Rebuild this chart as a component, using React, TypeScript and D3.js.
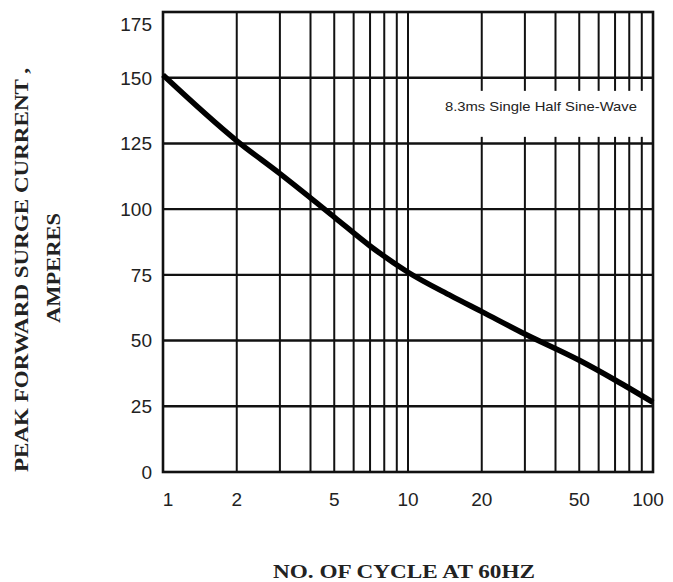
import React from "react";
import * as d3 from "d3";

// surge current vs number of cycles
const cycles = [1, 2, 3, 5, 7, 10, 15, 20, 30, 50, 70, 100];
const amps = [151, 126, 113.5, 97, 86, 76, 67, 61, 52.5, 42.5, 35, 26.5];

const xGridVals = [2, 3, 4, 5, 6, 7, 8, 9, 10, 20, 30, 40, 50, 60, 70, 80, 90];
const xTickLabels = [1, 2, 5, 10, 20, 50, 100];
const yTicks = [0, 25, 50, 75, 100, 125, 150, 175];

const noteText = "8.3ms Single Half Sine-Wave";
const yTitle1 = "PEAK FORWARD SURGE CURRENT ,";
const yTitle2 = "AMPERES";
const xTitle = "NO. OF CYCLE AT 60HZ";

const W = 673;
const H = 582;
const margin = { top: 12, right: 20, bottom: 110, left: 163 };

export default function App() {
  const x = d3.scaleLog().domain([1, 100]).range([margin.left, W - margin.right]);
  const y = d3.scaleLinear().domain([0, 175]).range([H - margin.bottom, margin.top]);

  const line = d3
    .line<number>()
    .x((d, i) => x(cycles[i]))
    .y((d) => y(d))
    .curve(d3.curveMonotoneX);

  const ink = "#111";
  const sans = "'Liberation Sans', Arial, sans-serif";
  const serif = "'Liberation Serif', 'Times New Roman', serif";

  // white patch behind the note, in data units
  const box = { x0: 13.5, x1: 95, y0: 127.5, y1: 145 };

  return (
    <svg
      width={W}
      height={H}
      style={{ position: "absolute", left: 0, top: 0, background: "#fff" }}
    >
      {/* vertical grid */}
      {xGridVals.map((v) => (
        <line key={"vx" + v} x1={x(v)} x2={x(v)} y1={y(0)} y2={y(175)} stroke={ink} strokeWidth={2} />
      ))}
      {/* note patch */}
      <rect
        x={x(box.x0)}
        y={y(box.y1)}
        width={x(box.x1) - x(box.x0)}
        height={y(box.y0) - y(box.y1)}
        fill="#fff"
      />
      <text
        x={x(86)}
        y={y(137.5)}
        textAnchor="end"
        fontFamily={sans}
        fontSize={13}
        fill="#222"
        textLength={192}
        lengthAdjust="spacingAndGlyphs"
      >
        {noteText}
      </text>
      {/* horizontal grid */}
      {yTicks.slice(1, -1).map((v) => (
        <line key={"hy" + v} x1={x(1)} x2={x(100)} y1={y(v)} y2={y(v)} stroke={ink} strokeWidth={2.4} />
      ))}
      {/* frame */}
      <rect
        x={x(1)}
        y={y(175)}
        width={x(100) - x(1)}
        height={y(0) - y(175)}
        fill="none"
        stroke={ink}
        strokeWidth={2.6}
      />
      {/* curve */}
      <path d={line(amps) || ""} fill="none" stroke="#000" strokeWidth={5.5} strokeLinejoin="round" />

      {/* y tick labels */}
      {yTicks.map((v) => (
        <text
          key={"yl" + v}
          x={margin.left - 11}
          y={y(v) + (v === 175 ? 12 : 0)}
          dy="0.36em"
          textAnchor="end"
          fontFamily={sans}
          fontSize={19}
          fill="#222"
        >
          {v}
        </text>
      ))}
      {/* x tick labels */}
      {xTickLabels.map((v, i) => (
        <text
          key={"xl" + v}
          x={x(v) + (i === 0 ? 5 : i === xTickLabels.length - 1 ? -5 : 0)}
          y={y(0) + 34}
          textAnchor="middle"
          fontFamily={sans}
          fontSize={19}
          fill="#222"
        >
          {v}
        </text>
      ))}

      {/* axis titles */}
      <g transform={`translate(28, 270) rotate(-90)`}>
        <text
          x={0}
          y={0}
          textAnchor="middle"
          fontFamily={serif}
          fontWeight="bold"
          fontSize={19}
          fill="#222"
          textLength={404}
          lengthAdjust="spacingAndGlyphs"
        >
          {yTitle1}
        </text>
      </g>
      <g transform={`translate(60, 268) rotate(-90)`}>
        <text
          x={0}
          y={0}
          textAnchor="middle"
          fontFamily={serif}
          fontWeight="bold"
          fontSize={19}
          fill="#222"
          textLength={110}
          lengthAdjust="spacingAndGlyphs"
        >
          {yTitle2}
        </text>
      </g>
      <text
        x={404}
        y={578}
        textAnchor="middle"
        fontFamily={serif}
        fontWeight="bold"
        fontSize={18}
        fill="#222"
        textLength={262}
        lengthAdjust="spacingAndGlyphs"
      >
        {xTitle}
      </text>
    </svg>
  );
}
